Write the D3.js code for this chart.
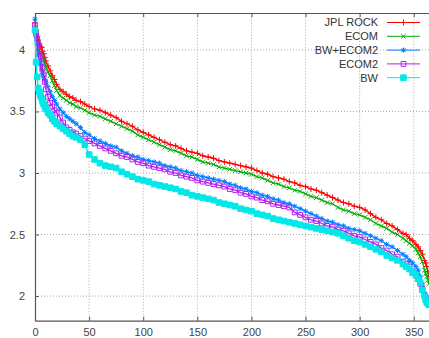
<!DOCTYPE html>
<html>
<head>
<meta charset="utf-8">
<script src="https://cdn.jsdelivr.net/npm/d3@7"></script>
<style>
body { margin: 0; background: #fff; }
svg { display: block; font-family: "Liberation Sans", Arial, sans-serif; }
</style>
</head>
<body>
<div id="vis-container"></div>
<script>
const width = 429,
      height = 338,
      margin = {
          top: 13,
          bottom: 17,
          left: 35,
          right: -1,
      };

// day index (sorted, descending values)
var days = [0,1,2,3,4,5,6,7,8,9,10,12,14,16,18,20,23,26,29,32,35,38,42,46,50,
    55,60,65,70,75,80,85,90,95,100,105,110,115,120,125,130,135,140,145,150,155,160,165,170,175,180,185,190,195,200,
    205,210,215,220,225,230,235,240,245,250,255,260,265,270,275,280,285,290,295,300,305,310,315,320,325,330,335,340,
    343,346,349,352,354,356,358,360,361,362,363,364];

var jplRock = [4.22,4.16,4.11,4.08,4.05,4.03,4.02,3.99,3.97,3.94,3.91,3.87,3.83,3.79,3.76,3.72,3.68,3.66,3.64,3.62,3.61,3.59,3.58,3.56,3.54,
    3.52,3.51,3.49,3.47,3.45,3.42,3.40,3.38,3.35,3.33,3.31,3.29,3.27,3.25,3.23,3.22,3.20,3.18,3.17,3.16,3.14,3.13,3.12,3.10,3.09,3.08,3.07,3.06,3.05,3.04,
    3.02,3.00,2.99,2.97,2.96,2.95,2.93,2.92,2.90,2.89,2.87,2.86,2.84,2.82,2.80,2.78,2.76,2.75,2.73,2.72,2.70,2.67,2.64,2.62,2.59,2.57,2.54,2.51,
    2.50,2.47,2.45,2.42,2.40,2.37,2.34,2.29,2.27,2.24,2.20,2.16];

var ecom = [4.18,4.12,4.06,4.02,3.99,3.97,3.96,3.94,3.92,3.89,3.86,3.82,3.79,3.75,3.71,3.67,3.63,3.61,3.59,3.57,3.56,3.54,3.53,3.51,3.49,
    3.47,3.46,3.44,3.42,3.40,3.38,3.36,3.34,3.31,3.29,3.27,3.25,3.23,3.21,3.19,3.18,3.16,3.14,3.13,3.11,3.09,3.08,3.07,3.05,3.04,3.03,3.02,3.01,3.00,2.99,
    2.97,2.96,2.94,2.92,2.91,2.89,2.88,2.86,2.85,2.83,2.81,2.80,2.78,2.76,2.75,2.72,2.70,2.69,2.67,2.66,2.64,2.62,2.59,2.57,2.55,2.52,2.50,2.47,
    2.45,2.43,2.41,2.38,2.35,2.32,2.28,2.21,2.18,2.16,2.13,2.10];

var bwEcom2 = [4.25,4.15,4.05,3.96,3.91,3.88,3.84,3.81,3.78,3.76,3.74,3.70,3.66,3.62,3.59,3.56,3.52,3.49,3.46,3.44,3.42,3.40,3.37,3.33,3.31,
    3.28,3.26,3.24,3.22,3.21,3.18,3.16,3.14,3.13,3.11,3.10,3.09,3.08,3.06,3.05,3.04,3.02,3.01,3.00,2.98,2.97,2.96,2.95,2.94,2.93,2.91,2.90,2.88,2.87,2.85,
    2.84,2.82,2.81,2.79,2.78,2.76,2.75,2.73,2.71,2.69,2.67,2.65,2.63,2.61,2.60,2.58,2.57,2.55,2.54,2.53,2.51,2.49,2.47,2.45,2.42,2.40,2.37,2.34,
    2.32,2.29,2.27,2.24,2.21,2.16,2.10,2.02,2.00,1.98,1.97,1.96];

var ecom2 = [4.20,4.13,4.09,4.05,4.00,3.95,3.90,3.85,3.80,3.74,3.68,3.62,3.57,3.54,3.51,3.49,3.45,3.41,3.37,3.35,3.33,3.32,3.30,3.28,3.26,
    3.24,3.22,3.20,3.18,3.16,3.14,3.13,3.11,3.09,3.08,3.06,3.05,3.04,3.03,3.01,3.00,2.98,2.97,2.96,2.94,2.93,2.92,2.91,2.90,2.89,2.87,2.86,2.84,2.83,2.81,
    2.80,2.78,2.77,2.75,2.74,2.73,2.72,2.68,2.66,2.64,2.62,2.61,2.59,2.57,2.56,2.54,2.53,2.51,2.49,2.48,2.46,2.44,2.42,2.39,2.37,2.34,2.32,2.28,
    2.26,2.24,2.20,2.17,2.14,2.10,2.06,2.01,1.99,1.97,1.96,1.95];

var bw = [4.16,3.90,3.78,3.69,3.66,3.63,3.61,3.58,3.56,3.54,3.52,3.49,3.47,3.44,3.42,3.40,3.38,3.36,3.34,3.32,3.30,3.29,3.27,3.23,3.15,
    3.11,3.08,3.06,3.05,3.04,3.01,2.99,2.97,2.95,2.94,2.93,2.91,2.90,2.89,2.88,2.87,2.85,2.84,2.82,2.81,2.80,2.79,2.78,2.76,2.75,2.74,2.73,2.71,2.70,2.69,
    2.67,2.66,2.65,2.63,2.62,2.61,2.60,2.59,2.58,2.57,2.56,2.55,2.54,2.53,2.52,2.51,2.49,2.47,2.45,2.44,2.42,2.40,2.38,2.36,2.33,2.31,2.29,2.26,
    2.24,2.22,2.19,2.17,2.14,2.11,2.05,2.00,1.97,1.95,1.94,1.93];

var seriesNames = ["JPL ROCK", "ECOM", "BW+ECOM2", "ECOM2", "BW"];
var seriesValues = [jplRock, ecom, bwEcom2, ecom2, bw];
var seriesColors = ["#ff0000", "#00b000", "#0080ff", "#b020f0", "#00e8e8"];
var seriesMarkers = ["plus", "cross", "star", "square", "filledSquare"];

var xTicks = [0, 50, 100, 150, 200, 250, 300, 350];
var yTicks = [2, 2.5, 3, 3.5, 4];

var x = d3.scaleLinear().domain([0, 365]).range([margin.left, width - margin.right]);
var y = d3.scaleLinear().domain([1.8, 4.3]).range([height - margin.bottom - 0.3, margin.top]);

// gnuplot style point types
function markerPath(type) {
    var s;
    if (type == "plus") { s = 3; return `M${-s},0H${s}M0,${-s}V${s}`; }
    if (type == "cross") { s = 2.3; return `M${-s},${-s}L${s},${s}M${-s},${s}L${s},${-s}`; }
    if (type == "star") { s = 2.6; return `M${-s},0H${s}M0,${-s}V${s}M-2,-2L2,2M-2,2L2,-2`; }
    s = type == "square" ? 2.4 : 2.8;
    return `M${-s},${-s}H${s}V${s}H${-s}Z`;
}

var svg = d3.select("#vis-container").append("svg")
    .attr("width", width)
    .attr("height", height);

// ******* Grid *******
var grid = svg.append("g")
    .attr("stroke", "#a8a8a8")
    .attr("stroke-width", 1)
    .attr("stroke-dasharray", "1,2");
grid.selectAll("line.v")
    .data(xTicks.slice(1))
    .enter()
    .append("line")
    .attr("x1", function(d) {return x(d);})
    .attr("x2", function(d) {return x(d);})
    .attr("y1", y.range()[0])
    .attr("y2", y.range()[1]);
grid.selectAll("line.h")
    .data(yTicks)
    .enter()
    .append("line")
    .attr("x1", x.range()[0])
    .attr("x2", x.range()[1])
    .attr("y1", function(d) {return y(d);})
    .attr("y2", function(d) {return y(d);});

// ******* Axes *******
var xAxis = svg.append("g")
    .attr("transform", `translate(0 ${y.range()[0]})`)
    .call(d3.axisBottom(x).tickValues(xTicks).tickSize(-4).tickSizeOuter(0).tickPadding(7.5));
var xTop = svg.append("g")
    .attr("transform", `translate(0 ${margin.top})`)
    .call(d3.axisTop(x).tickValues(xTicks).tickSize(-4).tickSizeOuter(0).tickFormat(""));
var yAxis = svg.append("g")
    .attr("transform", `translate(${margin.left} 0)`)
    .call(d3.axisLeft(y).tickValues(yTicks).tickSize(-4).tickSizeOuter(0).tickPadding(10).tickFormat(d3.format("")));

[xAxis, xTop, yAxis].forEach(function(a) {
    a.select(".domain").attr("stroke", "#555").attr("stroke-width", 1.2);
    a.selectAll(".tick line").attr("stroke", "#555");
    a.selectAll(".tick text").attr("fill", "#444").attr("font-size", 11).attr("font-family", "Liberation Sans, Arial, sans-serif");
});
// last x label sits against the right edge of the window
xAxis.selectAll(".tick text").filter(function(d) {return d == 350;}).attr("text-anchor", "middle");

// ******* Series *******
var line = d3.line()
    .x(function(d) {return x(d[0]);})
    .y(function(d) {return y(d[1]);});

seriesValues.forEach(function(vals, i) {
    var pts = days.map(function(d, j) {return [d, vals[j]];});
    var g = svg.append("g");
    g.append("path")
        .attr("d", line(pts))
        .attr("fill", "none")
        .attr("stroke", seriesColors[i])
        .attr("stroke-width", 1.3);
    g.selectAll("path.pt")
        .data(pts)
        .enter()
        .append("path")
        .attr("class", "pt")
        .attr("transform", function(d) {return `translate(${x(d[0])},${y(d[1])})`;})
        .attr("d", markerPath(seriesMarkers[i]))
        .attr("fill", seriesMarkers[i] == "filledSquare" ? seriesColors[i] : "none")
        .attr("stroke", seriesColors[i])
        .attr("stroke-width", 1);
});

// ******* Legend *******
var legend = svg.append("g");
seriesNames.forEach(function(name, i) {
    var ly = 22.5 + i * 13.8;
    legend.append("text")
        .attr("x", 378)
        .attr("y", ly)
        .attr("dy", "0.35em")
        .attr("text-anchor", "end")
        .attr("font-size", 11)
        .attr("fill", "#333")
        .text(name);
    legend.append("line")
        .attr("x1", 387)
        .attr("x2", 420)
        .attr("y1", ly)
        .attr("y2", ly)
        .attr("stroke", seriesColors[i])
        .attr("stroke-width", 1);
    legend.append("path")
        .attr("transform", `translate(403.5,${ly})`)
        .attr("d", markerPath(seriesMarkers[i]))
        .attr("fill", seriesMarkers[i] == "filledSquare" ? seriesColors[i] : "none")
        .attr("stroke", seriesColors[i]);
});
</script>
</body>
</html>
